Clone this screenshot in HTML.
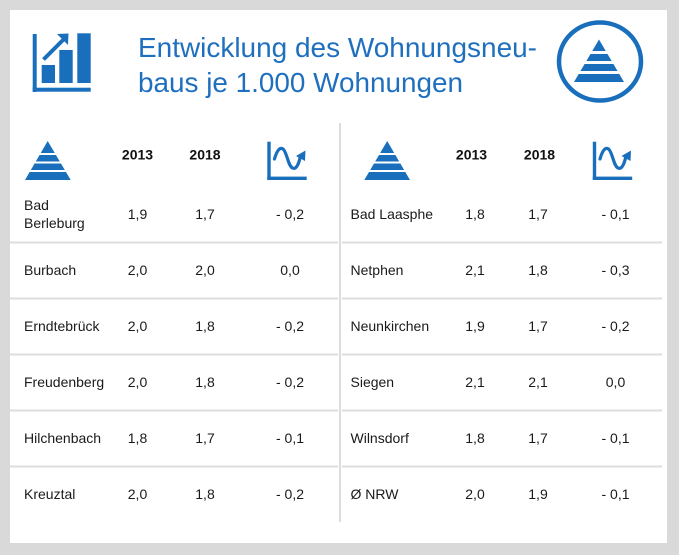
<!DOCTYPE html>
<html><head><meta charset="utf-8"><style>
html,body{margin:0;padding:0;background:#d9d9d9;}
svg{display:block;}
text{font-family:"Liberation Sans",Arial,sans-serif;}
</style></head><body>
<svg width="679" height="555" viewBox="0 0 679 555" xmlns="http://www.w3.org/2000/svg">
<rect x="0" y="0" width="679" height="555" fill="#d9d9d9"/>
<rect x="10" y="10" width="657" height="533" fill="#ffffff"/>

<!-- bar chart icon -->
<g fill="#1a6fbd">
<rect x="32.7" y="34" width="4" height="58"/>
<rect x="32.7" y="87.7" width="58" height="4"/>
<rect x="41.7" y="65" width="13.3" height="18"/>
<rect x="59.3" y="50" width="13.4" height="33"/>
<rect x="77.3" y="33.3" width="13.4" height="49.7"/>
<polygon points="57,34 68.5,33.5 68,45"/>
</g>
<line x1="43.5" y1="59.5" x2="64" y2="39" stroke="#1a6fbd" stroke-width="4"/>

<!-- title -->
<text x="138" y="57" font-size="28" fill="#1f6fbf" textLength="399" lengthAdjust="spacingAndGlyphs">Entwicklung des Wohnungsneu-</text>
<text x="138" y="92" font-size="28" fill="#1f6fbf" textLength="325" lengthAdjust="spacingAndGlyphs">baus je 1.000 Wohnungen</text>

<!-- circle pyramid -->
<ellipse cx="600" cy="61.5" rx="41" ry="39" fill="none" stroke="#1a6fbd" stroke-width="4.5"/>
<polygon points="599,39.5 574,82 624,82" fill="#1a6fbd"/>
<rect x="570" y="51" width="60" height="3" fill="#fff"/>
<rect x="570" y="61" width="60" height="3" fill="#fff"/>
<rect x="570" y="71" width="60" height="3" fill="#fff"/>

<!-- header pyramids -->
<g>
<polygon points="47.7,141 25,180 70.7,180" fill="#1a6fbd"/>
<rect x="20" y="153" width="55" height="2" fill="#fff"/>
<rect x="20" y="161.5" width="55" height="2" fill="#fff"/>
<rect x="20" y="170" width="55" height="2" fill="#fff"/>
</g>
<g>
<polygon points="387.2,141 364.3,180 410,180" fill="#1a6fbd"/>
<rect x="360" y="153" width="55" height="2" fill="#fff"/>
<rect x="360" y="161.5" width="55" height="2" fill="#fff"/>
<rect x="360" y="170" width="55" height="2" fill="#fff"/>
</g>

<!-- trend icons -->
<g id="tr">
<rect x="267.3" y="141.7" width="3.4" height="38.3" fill="#1a6fbd"/>
<rect x="267.3" y="176.6" width="39.4" height="3.4" fill="#1a6fbd"/>
<path d="M274.5,159 C277,150 280,147 283,149 C287,152 288,166 292.5,168 C296.5,170 299,163 300.5,156" fill="none" stroke="#1a6fbd" stroke-width="3.2" stroke-linecap="round"/>
<polygon points="296,156 305.5,150.5 305,161" fill="#1a6fbd"/>
</g>
<use href="#tr" transform="translate(325.5,0)"/>

<!-- headers -->
<g font-size="14" font-weight="bold" fill="#111" text-anchor="middle">
<text x="137.5" y="159.5">2013</text>
<text x="205" y="159.5">2018</text>
<text x="471.5" y="159.5">2013</text>
<text x="539.5" y="159.5">2018</text>
</g>

<!-- divider & separators -->
<rect x="339" y="123" width="2" height="399" fill="#dcdcdc"/>
<g fill="#dcdcdc">
<rect x="10" y="241.5" width="328" height="2"/>
<rect x="10" y="297.5" width="328" height="2"/>
<rect x="10" y="353.5" width="328" height="2"/>
<rect x="10" y="409.5" width="328" height="2"/>
<rect x="10" y="465.5" width="328" height="2"/>
<rect x="342" y="241.5" width="320" height="2"/>
<rect x="342" y="297.5" width="320" height="2"/>
<rect x="342" y="353.5" width="320" height="2"/>
<rect x="342" y="409.5" width="320" height="2"/>
<rect x="342" y="465.5" width="320" height="2"/>
</g>

<!-- left table -->
<g font-size="14" fill="#1a1a1a">
<text x="24" y="210">Bad</text>
<text x="24" y="228">Berleburg</text>
<text x="24" y="275">Burbach</text>
<text x="24" y="331">Erndtebrück</text>
<text x="24" y="387">Freudenberg</text>
<text x="24" y="443">Hilchenbach</text>
<text x="24" y="499">Kreuztal</text>
</g>
<g font-size="14" fill="#1a1a1a" text-anchor="middle">
<text x="137.5" y="219">1,9</text><text x="205" y="219">1,7</text><text x="290" y="219">- 0,2</text>
<text x="137.5" y="275">2,0</text><text x="205" y="275">2,0</text><text x="290" y="275">0,0</text>
<text x="137.5" y="331">2,0</text><text x="205" y="331">1,8</text><text x="290" y="331">- 0,2</text>
<text x="137.5" y="387">2,0</text><text x="205" y="387">1,8</text><text x="290" y="387">- 0,2</text>
<text x="137.5" y="443">1,8</text><text x="205" y="443">1,7</text><text x="290" y="443">- 0,1</text>
<text x="137.5" y="499">2,0</text><text x="205" y="499">1,8</text><text x="290" y="499">- 0,2</text>
</g>

<!-- right table -->
<g font-size="14" fill="#1a1a1a">
<text x="350.5" y="219">Bad Laasphe</text>
<text x="350.5" y="275">Netphen</text>
<text x="350.5" y="331">Neunkirchen</text>
<text x="350.5" y="387">Siegen</text>
<text x="350.5" y="443">Wilnsdorf</text>
<text x="350.5" y="499">Ø NRW</text>
</g>
<g font-size="14" fill="#1a1a1a" text-anchor="middle">
<text x="475" y="219">1,8</text><text x="538" y="219">1,7</text><text x="615.5" y="219">- 0,1</text>
<text x="475" y="275">2,1</text><text x="538" y="275">1,8</text><text x="615.5" y="275">- 0,3</text>
<text x="475" y="331">1,9</text><text x="538" y="331">1,7</text><text x="615.5" y="331">- 0,2</text>
<text x="475" y="387">2,1</text><text x="538" y="387">2,1</text><text x="615.5" y="387">0,0</text>
<text x="475" y="443">1,8</text><text x="538" y="443">1,7</text><text x="615.5" y="443">- 0,1</text>
<text x="475" y="499">2,0</text><text x="538" y="499">1,9</text><text x="615.5" y="499">- 0,1</text>
</g>
</svg>
</body></html>
